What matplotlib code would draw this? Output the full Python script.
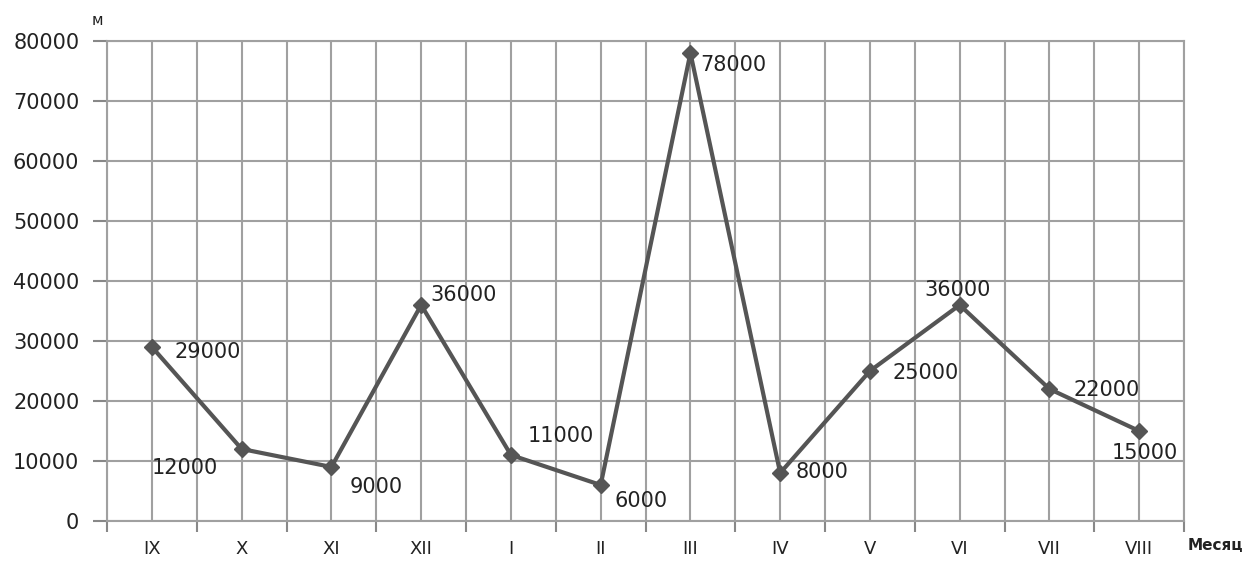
import numpy as np
import matplotlib.pyplot as plt

meses = ["IX", "X", "XI", "XII", "I", "II", "III", "IV", "V", "VI", "VII", "VIII"]
metros = [29000, 12000, 9000, 36000, 11000, 6000, 78000, 8000, 25000, 36000, 22000, 15000]

# desplazamiento de cada etiqueta (pixeles) respecto del punto
offsets = [(23, -5), (-90, -19), (18, -20), (9, 10), (17, 19), (14, -16),
           (10, -12), (15, 1), (23, -2), (-35, 15), (24, -1), (-27, -22)]

fig = plt.figure(figsize=(12.49, 5.62), dpi=100)
ax = fig.add_axes([0.0857, 0.073, 0.8623, 0.854])

x = np.arange(len(meses))
ax.plot(x, metros, color="#555555", lw=3, marker="D", ms=8, zorder=3)

for xi, yi, (dx, dy) in zip(x, metros, offsets):
    ax.annotate(str(yi), (xi, yi), xytext=(dx, dy), textcoords="offset pixels",
                fontsize=15, color="#222222", va="center", ha="left")

ax.set_xlim(-0.5, len(meses) - 0.5)
ax.set_ylim(0, 80000)
ax.set_yticks(range(0, 80001, 10000))
ax.set_xticks(x)
ax.set_xticklabels(meses)
ax.set_xticks(np.arange(-0.5, len(meses), 1), minor=True)

ax.tick_params(axis="x", which="major", length=0, pad=14, labelsize=13, labelcolor="#222222")
ax.tick_params(axis="x", which="minor", length=8, width=1.5, color="#888888")
ax.tick_params(axis="y", length=10, width=1.5, color="#888888", labelsize=15, labelcolor="#222222", pad=10)

ax.grid(True, which="both", color="#a0a0a0", lw=1.5, zorder=0)
for s in ax.spines.values():
    s.set_color("#a0a0a0")
    s.set_linewidth(1.5)
ax.set_axisbelow(True)

fig.text(0.073, 0.955, "м", fontsize=11, color="#222222")
fig.text(0.951, 0.022, "Месяц", fontsize=11, fontweight="bold", color="#222222")

plt.savefig("out.png", dpi=100)
